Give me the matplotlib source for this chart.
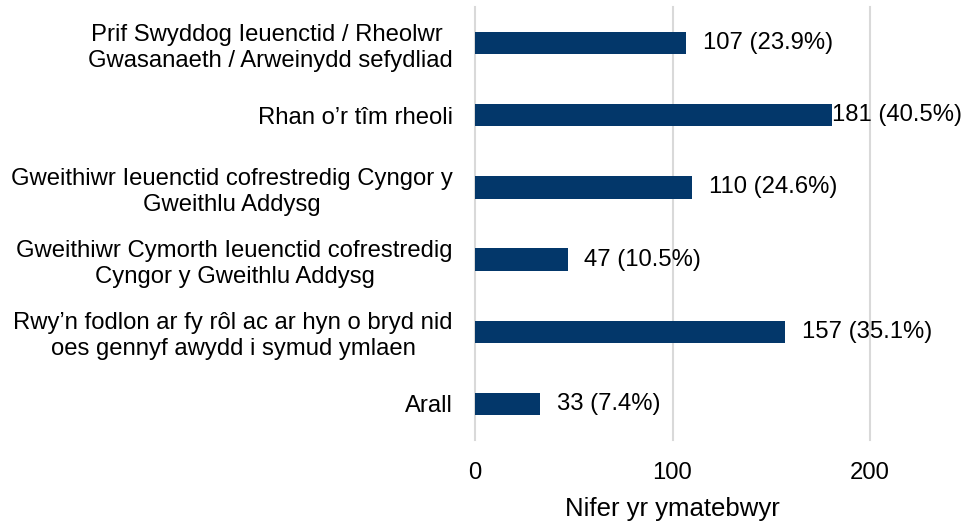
import matplotlib.pyplot as plt
from matplotlib import rcParams

rcParams['font.family'] = ['Liberation Sans', 'DejaVu Sans']

FONT_SIZE = 17.2

categories = [
    "Prif Swyddog Ieuenctid / Rheolwr \nGwasanaeth / Arweinydd sefydliad",
    "Rhan o\u2019r tîm rheoli",
    "Gweithiwr Ieuenctid cofrestredig Cyngor y\nGweithlu Addysg",
    "Gweithiwr Cymorth Ieuenctid cofrestredig\nCyngor y Gweithlu Addysg",
    "Rwy\u2019n fodlon ar fy rôl ac ar hyn o bryd nid\noes gennyf awydd i symud ymlaen",
    "Arall",
]
counts = [107, 181, 110, 47, 157, 33]
percents = [23.9, 40.5, 24.6, 10.5, 35.1, 7.4]
xticks = [0, 100, 200]
xlabel = "Nifer yr ymatebwyr"

BAR_COLOR = '#03376a'
GRID_COLOR = '#d9d9d9'


def main():
    fig = plt.figure(figsize=(9.64, 5.22), dpi=100)
    # plot area runs from 0 to 200; value labels spill past it
    ax = fig.add_axes([475 / 964, 1 - 440 / 522, 395 / 964, 433 / 522])

    ypos = list(range(len(categories)))
    ax.barh(ypos, counts, height=0.31, color=BAR_COLOR, zorder=3)

    for y, c, p in zip(ypos, counts, percents):
        # the longest bar's label sits tight to the bar end
        off = 0 if c > 170 else 12
        ax.annotate(f"{c} ({p}%)", xy=(c, y), xytext=(off, 0),
                    textcoords='offset points', va='center', ha='left',
                    fontsize=FONT_SIZE, color='black', annotation_clip=False)

    ax.set_ylim(len(categories) - 0.5, -0.5)
    ax.set_xlim(0, 200)
    ax.set_yticks(ypos)
    ax.set_yticklabels(categories, fontsize=FONT_SIZE, ha='right',
                       multialignment='center', linespacing=1.25)
    ax.set_xticks(xticks)
    ax.set_xticklabels([str(t) for t in xticks], fontsize=FONT_SIZE)
    ax.tick_params(axis='both', length=0)
    ax.tick_params(axis='y', pad=16)
    ax.tick_params(axis='x', pad=16)
    ax.set_xlabel(xlabel, fontsize=18.5, labelpad=9)

    for s in ax.spines.values():
        s.set_visible(False)
    ax.xaxis.grid(True, color=GRID_COLOR, linewidth=1.5, zorder=0)
    for gl in ax.get_xgridlines():
        gl.set_clip_on(False)
    ax.set_axisbelow(True)

    fig.savefig("out.png", dpi=100)


if __name__ == "__main__":
    main()
